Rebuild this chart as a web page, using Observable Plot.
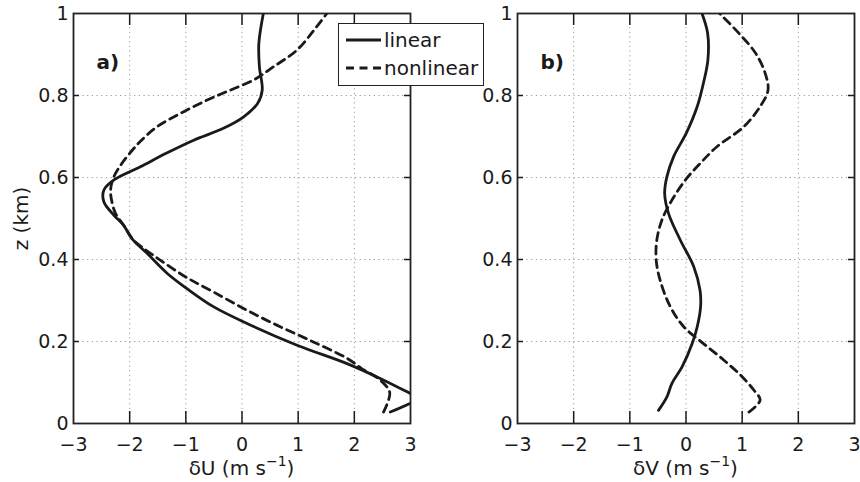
<!DOCTYPE html>
<html><head><meta charset="utf-8">
<script src="https://cdn.jsdelivr.net/npm/d3@7"></script>
<script src="https://cdn.jsdelivr.net/npm/@observablehq/plot@0.6"></script>
<style>
body{margin:0;background:#fff;}
#wrap{position:relative;width:860px;height:482px;font-family:"DejaVu Sans",sans-serif;overflow:hidden;}
#wrap svg.panel{position:absolute;top:0;}
#legend{position:absolute;left:338px;top:23px;width:144px;height:61px;border:1.6px solid #222;background:#fff;}
</style></head><body><div id="wrap"></div>
<script>
// ---- data ----
const xTicks = [-3, -2, -1, 0, 1, 2, 3];
const xTickLabels = ["\u22123", "\u22122", "\u22121", "0", "1", "2", "3"];
const yTicks = [0, 0.2, 0.4, 0.6, 0.8, 1];
const yTickLabels = ["0", "0.2", "0.4", "0.6", "0.8", "1"];
const seriesNames = ["linear", "nonlinear"];
const panelTags = ["a)", "b)"];
const xLabelVars = ["\u03b4U", "\u03b4V"];
const yLabel = "z (km)";

// panel a: dU
const zU_lin = [0.028, 0.063, 0.073, 0.110, 0.146, 0.191, 0.244, 0.285, 0.329, 0.366, 0.415, 0.451, 0.484, 0.508, 0.541, 0.569, 0.594, 0.626, 0.659, 0.691, 0.72, 0.748, 0.781, 0.813, 0.87, 0.927, 1.0];
const dU_lin = [2.64, 3.14, 3.0, 2.46, 1.87, 0.98, 0.09, -0.51, -0.98, -1.33, -1.69, -1.96, -2.11, -2.28, -2.46, -2.46, -2.28, -1.81, -1.35, -0.86, -0.33, 0.03, 0.28, 0.36, 0.31, 0.30, 0.38];
const zU_non = [0.028, 0.075, 0.106, 0.134, 0.159, 0.199, 0.236, 0.276, 0.321, 0.358, 0.398, 0.427, 0.447, 0.484, 0.512, 0.537, 0.569, 0.602, 0.634, 0.667, 0.691, 0.724, 0.756, 0.789, 0.813, 0.838, 0.87, 0.911, 0.968, 1.0];
const dU_non = [2.52, 2.63, 2.46, 2.13, 1.87, 1.27, 0.68, 0.09, -0.51, -1.01, -1.45, -1.75, -1.93, -2.11, -2.25, -2.31, -2.34, -2.28, -2.14, -1.95, -1.79, -1.51, -1.10, -0.62, -0.21, 0.21, 0.56, 0.98, 1.33, 1.51];

// panel b: dV
const zV_lin = [0.032, 0.065, 0.098, 0.138, 0.195, 0.236, 0.285, 0.325, 0.382, 0.447, 0.512, 0.561, 0.602, 0.651, 0.708, 0.773, 0.83, 0.887, 0.952, 1.0];
const dV_lin = [-0.49, -0.34, -0.25, -0.07, 0.11, 0.20, 0.26, 0.25, 0.14, -0.10, -0.31, -0.38, -0.34, -0.22, 0.005, 0.20, 0.31, 0.39, 0.385, 0.285];
const zV_non = [0.028, 0.057, 0.081, 0.114, 0.155, 0.195, 0.236, 0.285, 0.349, 0.398, 0.447, 0.496, 0.545, 0.594, 0.634, 0.675, 0.724, 0.773, 0.813, 0.854, 0.903, 0.952, 1.0];
const dV_non = [1.12, 1.32, 1.21, 1.0, 0.67, 0.31, -0.04, -0.28, -0.46, -0.53, -0.52, -0.43, -0.25, -0.01, 0.25, 0.55, 1.03, 1.32, 1.46, 1.41, 1.24, 0.94, 0.60];

const toRows = (zs, vs) => zs.map((z, i) => ({z, v: vs[i]}));

const INK = "#1a1a1a";
const DASH = "8,5.5";
const LW = 2.8;
const W = 430, H = 482, MT = 13, MB = 59;
const fmtX = d => xTickLabels[xTicks.indexOf(d)];
const fmtY = d => yTickLabels[yTicks.indexOf(d)];

function panel({left, marginLeft, marginRight, lin, non, tag, xvar, showYLabel}) {
  const pw = W - marginLeft - marginRight, ph = H - MT - MB;
  const inner = xTicks.slice(1, -1), innerY = yTicks.slice(1, -1);
  const marks = [
    Plot.gridX(inner, {stroke: "#999", strokeOpacity: 1, strokeWidth: 1, strokeDasharray: "1.2,3.5"}),
    Plot.gridY(innerY, {stroke: "#999", strokeOpacity: 1, strokeWidth: 1, strokeDasharray: "1.2,3.5"}),
    Plot.ruleX(inner, {x: d => d, insetTop: ph - 12, stroke: INK, strokeWidth: 1.5}),
    Plot.ruleX(inner, {x: d => d, insetBottom: ph - 12, stroke: INK, strokeWidth: 1.5}),
    Plot.ruleY(innerY, {y: d => d, insetRight: pw - 6, stroke: INK, strokeWidth: 1.5}),
    Plot.ruleY(innerY, {y: d => d, insetLeft: pw - 6, stroke: INK, strokeWidth: 1.5}),
    Plot.line(lin, {x: "v", y: "z", stroke: INK, strokeWidth: LW, curve: "catmull-rom", clip: true}),
    Plot.line(non, {x: "v", y: "z", stroke: INK, strokeWidth: LW, strokeDasharray: DASH, curve: "catmull-rom", clip: true}),
    Plot.frame({stroke: "#222", strokeWidth: 1.8}),
    Plot.axisX({ticks: xTicks, tickSize: 0, tickPadding: 14, tickFormat: fmtX, label: null, fontSize: 19}),
    Plot.axisY({ticks: yTicks, tickSize: 0, tickPadding: 5, tickFormat: fmtY, label: null, fontSize: 19}),
    Plot.text([tag], {text: d => d, frameAnchor: "top-left", textAnchor: "start", lineAnchor: "middle", dx: 23, dy: 49, fontWeight: "bold", fontSize: 20, fill: INK})
  ];
  if (showYLabel) {
    marks.push(Plot.text([yLabel], {text: d => d, frameAnchor: "left", rotate: -90, textAnchor: "middle", lineAnchor: "middle", dx: -52, fontSize: 20, fill: INK}));
  }
  const p = Plot.plot({
    width: W, height: H, marginLeft, marginRight, marginTop: MT, marginBottom: MB,
    style: {fontFamily: "'DejaVu Sans', sans-serif", fontSize: "20px", color: INK, background: "transparent", overflow: "visible"},
    x: {domain: [-3, 3]},
    y: {domain: [0, 1]},
    marks
  });
  p.classList.add("panel");
  p.style.left = left + "px";
  const svg = d3.select(p);
  const t = svg.append("text")
    .attr("x", p.scale("x").apply(0))
    .attr("y", 475)
    .attr("text-anchor", "middle")
    .attr("font-size", 20)
    .attr("fill", INK);
  t.append("tspan").text(xvar + " (m s");
  t.append("tspan").attr("dy", -9).attr("font-size", 14).text("\u22121");
  t.append("tspan").attr("dy", 9).text(")");
  return p;
}

const wrap = document.getElementById("wrap");
wrap.appendChild(panel({left: 0, marginLeft: 73, marginRight: 20, lin: toRows(zU_lin, dU_lin), non: toRows(zU_non, dU_non), tag: panelTags[0], xvar: xLabelVars[0], showYLabel: true}));
wrap.appendChild(panel({left: 430, marginLeft: 87, marginRight: 6, lin: toRows(zV_lin, dV_lin), non: toRows(zV_non, dV_non), tag: panelTags[1], xvar: xLabelVars[1], showYLabel: false}));

// legend
const leg = document.createElement("div");
leg.id = "legend";
wrap.appendChild(leg);
const ls = d3.select(leg).append("svg").attr("width", 144).attr("height", 61).style("display", "block");
const rows = [{name: seriesNames[0], dash: null, y: 16}, {name: seriesNames[1], dash: DASH, y: 44}];
rows.forEach(r => {
  ls.append("line").attr("x1", 7).attr("x2", 42).attr("y1", r.y).attr("y2", r.y)
    .attr("stroke", INK).attr("stroke-width", LW).attr("stroke-dasharray", r.dash);
  ls.append("text").attr("x", 45).attr("y", r.y).attr("dy", "0.36em")
    .attr("font-size", 20).attr("fill", INK).attr("font-family", "'DejaVu Sans', sans-serif").text(r.name);
});
</script>
</body></html>
